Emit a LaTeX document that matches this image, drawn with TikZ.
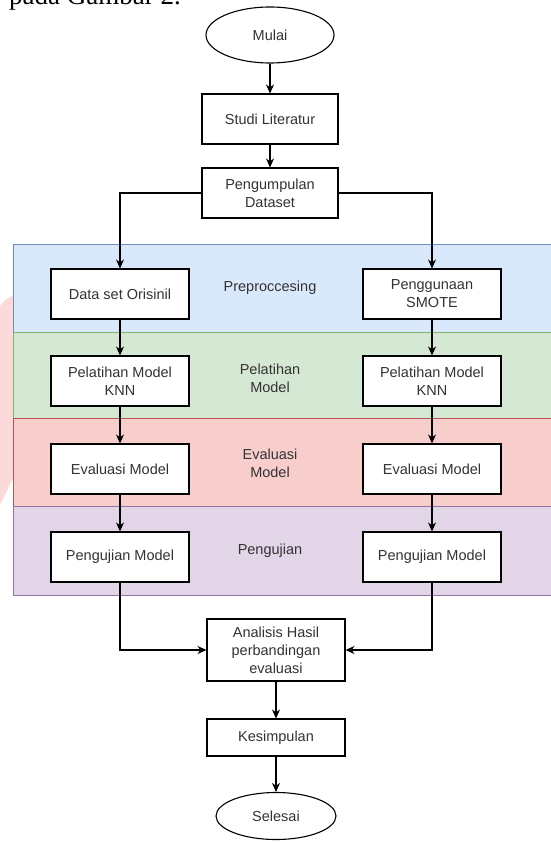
\documentclass[tikz,border=0pt]{standalone}
\usepackage{fontspec}
\setmainfont{Liberation Sans}
\newfontfamily\captserif{Liberation Serif}
\usepackage{tikz}
\usetikzlibrary{shapes.geometric, arrows.meta, positioning}
\definecolor{LaneBlue}{HTML}{DAE8FC}
\definecolor{LineBlue}{HTML}{6C8EBF}
\definecolor{LaneGreen}{HTML}{D5E8D4}
\definecolor{LineGreen}{HTML}{82B366}
\definecolor{LaneRed}{HTML}{F8CECC}
\definecolor{LineRed}{HTML}{B85450}
\definecolor{LanePurple}{HTML}{E1D5E7}
\definecolor{LinePurple}{HTML}{9673A6}
\definecolor{MarkPink}{HTML}{FCDADA}
\definecolor{InkGray}{HTML}{333333}
\tikzset{
  stepbox/.style={rectangle, draw=black, fill=white, line width=1.1pt, minimum width=138pt, minimum height=50pt, inner sep=2pt, font=\fontsize{14.5}{18}\selectfont, text=InkGray, align=center},
  termnode/.style={ellipse, draw=black, fill=white, line width=1.1pt, inner sep=0pt, font=\fontsize{14.5}{18}\selectfont, text=InkGray},
  lanelabel/.style={font=\fontsize{14.5}{18}\selectfont, text=InkGray, align=center},
  arrow/.style={-{Stealth[length=9pt,width=8pt]}, line width=1.1pt, black}
}

\begin{document}
\begin{tikzpicture}[x=1pt, y=-1pt]
  \useasboundingbox (0,0) rectangle (550,842);
  % caption cut off at the top
  \node[font=\captserif\fontsize{27}{30}\selectfont, anchor=base east, inner sep=0pt] (capt) at (181,5) {pada Gambar 2.};
  \fill[MarkPink] (0,306) .. controls (4,300) and (9,297) .. (13,296) -- (13,478) -- (0,505) -- cycle;
  % lanes
  \foreach \ytop/\ybot/\fillc/\linec in {244/332/LaneBlue/LineBlue, 332/418/LaneGreen/LineGreen, 418/506/LaneRed/LineRed, 506/595/LanePurple/LinePurple} {
    \draw[fill=\fillc, draw=\linec, line width=0.8pt] (13,\ytop) rectangle (560,\ybot);
  }
  \node[lanelabel] (lpre) at (270,288) {Preproccesing};
  \node[lanelabel] (llatih) at (270,378) {Pelatihan\\Model};
  \node[lanelabel] (leval) at (270,463) {Evaluasi\\Model};
  \node[lanelabel] (luji) at (270,551) {Pengujian};

  \node[termnode, minimum width=128pt, minimum height=56pt] (mulai) at (270,35) {Mulai};
  \node[stepbox, minimum width=136pt] (studi) at (270,119) {Studi Literatur};
  \node[stepbox, minimum width=136pt] (kumpul) at (270,193) {Pengumpulan\\Dataset};

  \node[stepbox] (orisinil) at (120,294) {Data set Orisinil};
  \node[stepbox] (smote) at (432,294) {Penggunaan\\SMOTE};
  \node[stepbox] (latih1) at (120,381) {Pelatihan Model\\KNN};
  \node[stepbox] (latih2) at (432,381) {Pelatihan Model\\KNN};
  \node[stepbox] (eval1) at (120,469) {Evaluasi Model};
  \node[stepbox] (eval2) at (432,469) {Evaluasi Model};
  \node[stepbox] (uji1) at (120,557) {Pengujian Model};
  \node[stepbox] (uji2) at (432,557) {Pengujian Model};

  \node[stepbox, minimum height=62pt] (analisis) at (276,650) {Analisis Hasil\\perbandingan\\evaluasi};
  \node[stepbox, minimum height=37pt] (simpul) at (276,737.5) {Kesimpulan};
  \node[termnode, minimum width=120pt, minimum height=47pt] (selesai) at (276,816) {Selesai};

  \draw[arrow] (mulai) -- (studi);
  \draw[arrow] (studi) -- (kumpul);
  \draw[arrow] (kumpul.west) -| (orisinil.north);
  \draw[arrow] (kumpul.east) -| (smote.north);
  \draw[arrow] (orisinil) -- (latih1);
  \draw[arrow] (latih1) -- (eval1);
  \draw[arrow] (eval1) -- (uji1);
  \draw[arrow] (smote) -- (latih2);
  \draw[arrow] (latih2) -- (eval2);
  \draw[arrow] (eval2) -- (uji2);
  \draw[arrow] (uji1.south) |- (analisis.west);
  \draw[arrow] (uji2.south) |- (analisis.east);
  \draw[arrow] (analisis) -- (simpul);
  \draw[arrow] (simpul) -- (selesai);
\end{tikzpicture}
\end{document}
